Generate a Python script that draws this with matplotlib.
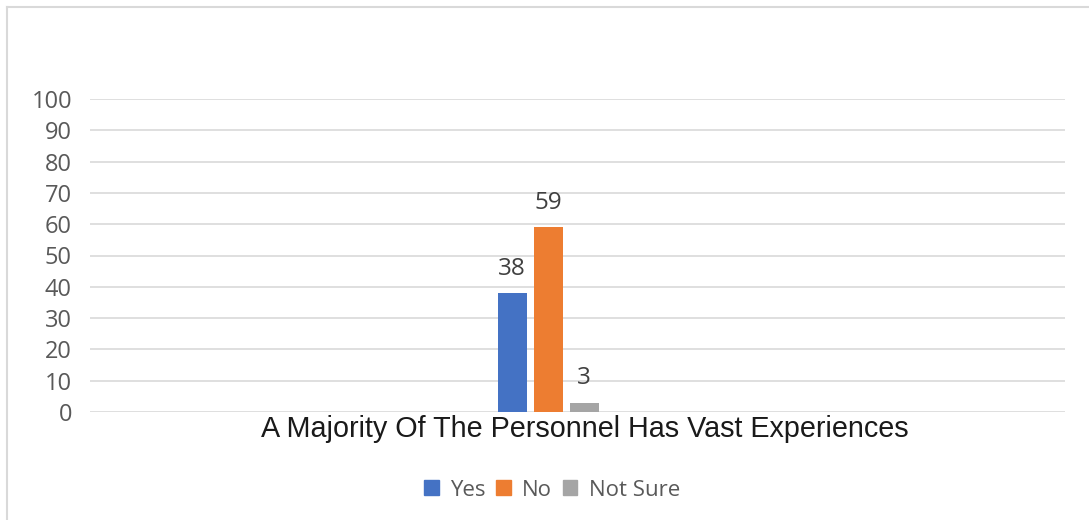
import matplotlib.pyplot as plt
from matplotlib.lines import Line2D
from matplotlib.patches import Patch

category = "A Majority Of The Personnel Has Vast Experiences"
series = ["Yes", "No", "Not Sure"]
values = [38, 59, 3]
colors = ["#4472C4", "#ED7D31", "#A5A5A5"]

W, H = 1089, 520
fig = plt.figure(figsize=(W / 100, H / 100), dpi=100)
ax = fig.add_axes([90 / W, 1 - 412 / H, 975 / W, 313 / H])

# bars sit left of the axis centre, as in the original
step = 36
offsets = [-1, 0, 1]
for off, name, v, c in zip(offsets, series, values, colors):
    ax.bar(off, v, width=29 / step, color=c, label=name, zorder=3)
    ax.text(off, v + 4, str(v), ha="center", va="bottom",
            fontsize=17.5, color="#404040", family="Open Sans")

ax.set_xlim(-458 / step, 517 / step)
ax.set_ylim(0, 100)
ax.set_yticks(range(0, 101, 10))
ax.yaxis.grid(True, color="#d9d9d9", linewidth=1.2, zorder=0)
ax.set_xticks([])
for s in ax.spines.values():
    s.set_visible(False)
ax.tick_params(axis="y", length=0, pad=13, labelsize=17, labelcolor="#595959")
for lbl in ax.get_yticklabels():
    lbl.set_family("Open Sans")

fig.text(585 / W, 1 - 429 / H, category, ha="center", va="center",
         fontsize=20.7, family="Liberation Sans", color="#1a1a1a")

handles = [Patch(color=c, label=n) for n, c in zip(series, colors)]
fig.legend(handles=handles, loc="center", bbox_to_anchor=(552 / W, 1 - 490 / H),
           ncol=3, frameon=False, handlelength=0.65, handleheight=0.65,
           handletextpad=0.5, columnspacing=0.5, prop={"family": "Open Sans", "size": 16},
           labelcolor="#595959")

fig.add_artist(Line2D([7 / W, 7 / W], [0, 1 - 7 / H], color="#d9d9d9", linewidth=1.5))
fig.add_artist(Line2D([7 / W, 1], [1 - 7 / H, 1 - 7 / H], color="#d9d9d9", linewidth=1.5))

fig.savefig("out.png", dpi=100)
